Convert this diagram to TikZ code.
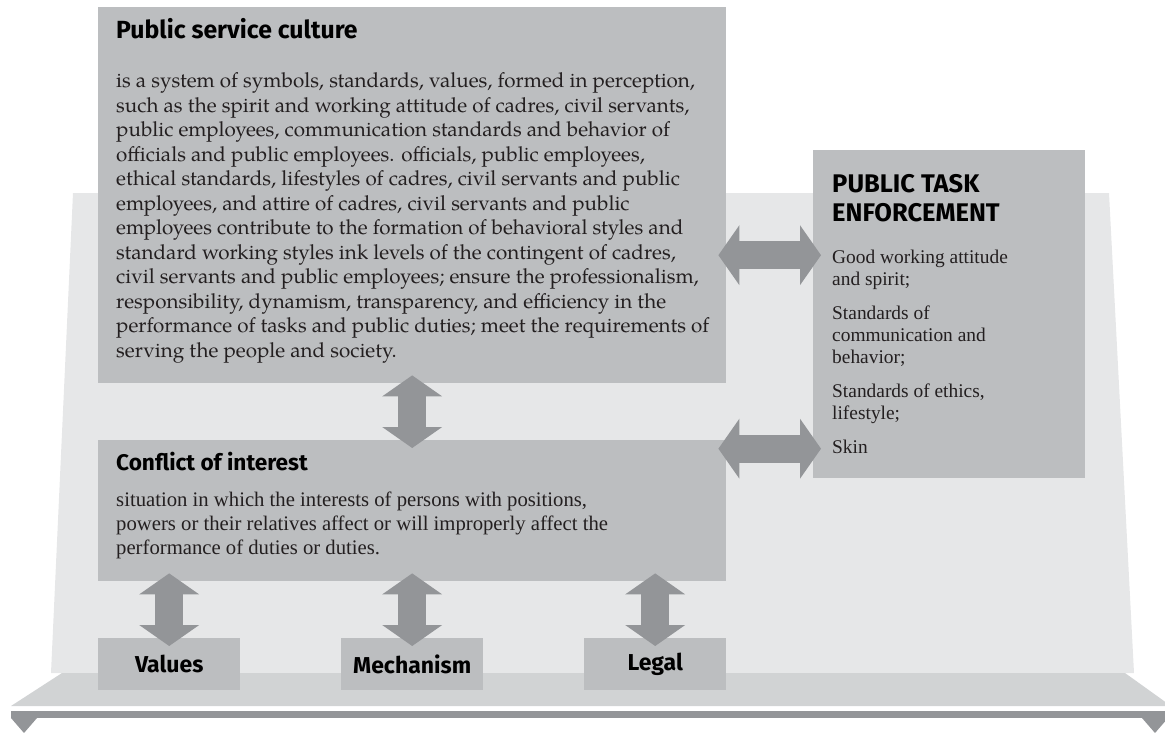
\documentclass[tikz,border=0pt]{standalone}
\usepackage{fontspec}
\setmainfont{Liberation Serif}
\newfontfamily\headfont{Fira Sans}
\newfontfamily\palafont{texgyrepagella-regular.otf}
\usetikzlibrary{arrows.meta, positioning}
\definecolor{boxgray}{HTML}{BCBEC0}
\definecolor{panelgray}{HTML}{E6E7E8}
\definecolor{platgray}{HTML}{D1D3D4}
\definecolor{arrowgray}{HTML}{939598}
\definecolor{inkgray}{HTML}{231F20}
\newcommand{\head}[3]{{\headfont\bfseries\fontsize{#1}{#2}\selectfont #3}}
\newcommand{\block}[2]{\parbox[t]{#1}{\raggedright #2}}

\begin{document}
\begin{tikzpicture}[x=1pt, y=-1pt,
	box/.style={fill=boxgray, inner sep=0pt, anchor=north west},
	txt/.style={inner sep=0pt, anchor=base west, text=inkgray},
	dblarrow/.style={draw=arrowgray, line width=28pt,
		{Triangle[width=60pt,length=21pt,line width=0pt]}-{Triangle[width=60pt,length=21pt,line width=0pt]},
		shorten <=-8pt, shorten >=-8pt}]
	\useasboundingbox (0,0) rectangle (1165,733);
	% back panel and stand
	\fill[panelgray] (73,193) -- (1109,193) -- (1134,673) -- (51,673) -- cycle;
	\fill[platgray] (62,673) -- (1125,673) -- (1171,706) -- (11,706) -- cycle;
	\fill[arrowgray] (11,711) rectangle (1165,718);
	\fill[arrowgray] (11,718) -- (37,718) -- (24,733) -- cycle;
	\fill[arrowgray] (1142,718) -- (1168,718) -- (1155,733) -- cycle;
	% boxes
	\node[box, minimum width=628pt, minimum height=376pt] (psc) at (98,7) {};
	\node[box, minimum width=628pt, minimum height=141pt] (coi) at (98,440) {};
	\node[box, minimum width=272pt, minimum height=328pt] (pte) at (813,150) {};
	\node[box, minimum width=142pt, minimum height=52pt, text=black] (val) at (98,638) {\head{23}{27}{Values}};
	\node[box, minimum width=142pt, minimum height=52pt, text=black] (mech) at (341,638) {\head{23}{27}{Mechanism}};
	\node[box, minimum width=142pt, minimum height=52pt, text=black] (legal) at (584,638) {\head{23}{27}{Legal}};
	% texts
	\node[txt, text=black] (psct) at (116,39) {\head{24.8}{29}{Public service culture}};
	\node[txt] (pscb) at (116,88) {\block{640pt}{\palafont\fontsize{20.6}{24.5}\selectfont
		is a system of symbols, standards, values, formed in perception,\\
		such as the spirit and working attitude of cadres, civil servants,\\
		public employees, communication standards and behavior of\\
		officials and public employees. officials, public employees,\\
		ethical standards, lifestyles of cadres, civil servants and public\\
		employees, and attire of cadres, civil servants and public\\
		employees contribute to the formation of behavioral styles and\\
		standard working styles ink levels of the contingent of cadres,\\
		civil servants and public employees; ensure the professionalism,\\
		responsibility, dynamism, transparency, and efficiency in the\\
		performance of tasks and public duties; meet the requirements of\\
		serving the people and society.}};
	\node[txt, text=black] (coit) at (116,470) {\head{22.6}{26}{Conflict of interest}};
	\node[txt] (coib) at (116,506) {\block{600pt}{\fontsize{20.7}{24}\selectfont
		situation in which the interests of persons with positions,\\
		powers or their relatives affect or will improperly affect the\\
		performance of duties or duties.}};
	\node[txt, text=black] (ptet) at (832,193) {\block{250pt}{\headfont\bfseries\fontsize{25.5}{29}\selectfont
		PUBLIC TASK\\ENFORCEMENT}};
	\node[txt] (pteb) at (832,263) {\block{250pt}{\fontsize{19.4}{22.3}\selectfont
		Good working attitude\\and spirit;\\[11.5pt]
		Standards of\\communication and\\behavior;\\[11.5pt]
		Standards of ethics,\\lifestyle;\\[11.5pt]
		Skin}};
	% connectors
	\draw[dblarrow] (psc.south) -- (coi.north);
	\draw[dblarrow] ([yshift=-60pt]psc.east) -- ([yshift=-60pt]psc.east -| pte.west);
	\draw[dblarrow] ([yshift=62pt]coi.east) -- ([yshift=62pt]coi.east -| pte.west);
	\draw[dblarrow] (coi.south -| val.north) -- (val.north);
	\draw[dblarrow] (coi.south -| mech.north) -- (mech.north);
	\draw[dblarrow] (coi.south -| legal.north) -- (legal.north);
\end{tikzpicture}
\end{document}
